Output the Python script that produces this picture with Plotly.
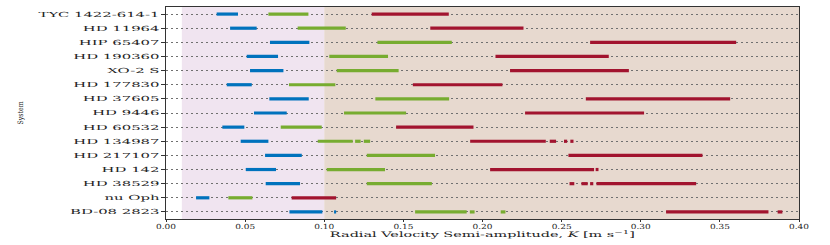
import plotly.graph_objects as go

systems = ["TYC 1422-614-1", "HD 11964", "HIP 65407", "HD 190360", "XO-2 S",
           "HD 177830", "HD 37605", "HD 9446", "HD 60532", "HD 134987",
           "HD 217107", "HD 142", "HD 38529", "nu Oph", "BD-08 2823"]

# segments per system: list of (start, end) in m/s
blue_segments = [
    [(0.032, 0.0455)],
    [(0.0405, 0.0573)],
    [(0.0657, 0.0906)],
    [(0.051, 0.0708)],
    [(0.0531, 0.0742)],
    [(0.0384, 0.0542)],
    [(0.0653, 0.0902)],
    [(0.0556, 0.0763)],
    [(0.0356, 0.0495)],
    [(0.0472, 0.0647)],
    [(0.0626, 0.0858)],
    [(0.0504, 0.0695)],
    [(0.063, 0.0847)],
    [(0.019, 0.0274)],
    [(0.078, 0.0988), (0.1062, 0.1075)],
]
green_segments = [
    [(0.0647, 0.090)],
    [(0.0832, 0.1136)],
    [(0.1336, 0.1806)],
    [(0.1032, 0.1403)],
    [(0.1079, 0.147)],
    [(0.0777, 0.107)],
    [(0.1323, 0.1789)],
    [(0.1125, 0.1517)],
    [(0.0725, 0.0984)],
    [(0.0959, 0.118), (0.1195, 0.123), (0.125, 0.129)],
    [(0.1269, 0.170)],
    [(0.1016, 0.1384)],
    [(0.1269, 0.168)],
    [(0.0394, 0.0546)],
    [(0.1574, 0.190), (0.192, 0.195), (0.2115, 0.2145)],
]
red_segments = [
    [(0.130, 0.1787)],
    [(0.167, 0.2259)],
    [(0.268, 0.3603)],
    [(0.2082, 0.2798)],
    [(0.2174, 0.2925)],
    [(0.156, 0.2126)],
    [(0.2653, 0.3565)],
    [(0.2269, 0.3021)],
    [(0.1454, 0.1943)],
    [(0.1922, 0.240), (0.2425, 0.2465), (0.2515, 0.2535), (0.2555, 0.2575)],
    [(0.2543, 0.339)],
    [(0.2048, 0.2705), (0.2715, 0.2733)],
    [(0.255, 0.258), (0.2625, 0.2665), (0.268, 0.270), (0.272, 0.335)],
    [(0.0794, 0.1075)],
    [(0.316, 0.3807), (0.3865, 0.3895)],
]

x_tick_values = [0, 0.05, 0.10, 0.15, 0.20, 0.25, 0.30, 0.35, 0.40]
x_tick_labels = ["0.00", "0.05", "0.10", "0.15", "0.20", "0.25", "0.30", "0.35", "0.40"]

x_title = "Radial Velocity Semi-amplitude, <i>K</i> [m s<sup>−1</sup>]"
y_title = "System"

series_colors = {"blue": "#0072BD", "green": "#77AC30", "red": "#A2142F"}

region_low = (0.01, 0.10)
region_high = (0.10, 0.40)

fig = go.Figure()

for name, segs in [("blue", blue_segments), ("green", green_segments), ("red", red_segments)]:
    xs, ys = [], []
    for sysname, seglist in zip(systems, segs):
        for a, b in seglist:
            xs += [a, b, None]
            ys += [sysname, sysname, None]
    fig.add_trace(go.Scatter(x=xs, y=ys, mode="lines",
                             line=dict(color=series_colors[name], width=3.2),
                             showlegend=False, hoverinfo="skip"))

fig.add_shape(type="rect", xref="x", yref="paper", x0=region_low[0], x1=region_low[1],
              y0=0, y1=1, fillcolor="#F0E4F0", line_width=0, layer="below")
fig.add_shape(type="rect", xref="x", yref="paper", x0=region_high[0], x1=region_high[1],
              y0=0, y1=1, fillcolor="#E7D9CF", line_width=0, layer="below")

font_family = "DejaVu Serif"

fig.add_annotation(text=y_title, xref="paper", yref="paper", x=-0.231, y=0.5,
                   xanchor="center", yanchor="middle", textangle=-90, showarrow=False,
                   font=dict(size=7.5, family=font_family, color="#222222"))
fig.add_annotation(text=x_title, xref="paper", yref="paper", x=0.5, y=-0.072,
                   xanchor="center", yanchor="middle", showarrow=False,
                   font=dict(size=7.5, family=font_family, color="#222222"))

fig.update_layout(
    width=830, height=245,
    margin=dict(l=166, r=31, t=7, b=26, autoexpand=False),
    paper_bgcolor="white", plot_bgcolor="white",
    font=dict(family=font_family, size=7, color="#222222"),
    xaxis=dict(range=[0, 0.40], tickvals=x_tick_values, ticktext=x_tick_labels,
               showgrid=False, zeroline=False, showline=True, linecolor="#333333", linewidth=1.2,
               mirror=True, ticks="outside", ticklen=2, tickcolor="#333333",
               tickfont=dict(size=7), automargin=False, ticklabelstandoff=-2),
    yaxis=dict(type="category", categoryorder="array", categoryarray=systems,
               range=[14.5, -0.5], showgrid=True, gridcolor="#707070", gridwidth=1,
               griddash="2px,3px", zeroline=False, showline=True, linecolor="#333333",
               linewidth=1.2, mirror=True, ticks="outside", ticklen=4, tickcolor="#333333",
               tickfont=dict(size=7), automargin=False),
)

post = """
document.body.style.margin = '0';
(function(){
  function stretch(nodes, factorFrom, target){
    var factor = null;
    nodes.forEach(function(t){ if (factor === null && (factorFrom === null || t.textContent === factorFrom)) {
        var w = t.getComputedTextLength(); if (w > 0) factor = target / w; } });
    if (!factor) return;
    nodes.forEach(function(t){
      var w = t.getComputedTextLength();
      t.setAttribute('textLength', (w * factor).toFixed(2));
      t.setAttribute('lengthAdjust', 'spacingAndGlyphs');
    });
  }
  stretch(Array.from(document.querySelectorAll('.ytick text')), 'TYC 1422-614-1', 121);
  stretch(Array.from(document.querySelectorAll('.xtick text')), '0.15', 20);
  var ann = Array.from(document.querySelectorAll('text.annotation-text'));
  ann.forEach(function(t){
    if (t.textContent === 'System') stretch([t], null, 23);
    else stretch([t], null, 305);
  });
})();
"""

fig.write_html("out.html", post_script=post, config={"displayModeBar": False})
